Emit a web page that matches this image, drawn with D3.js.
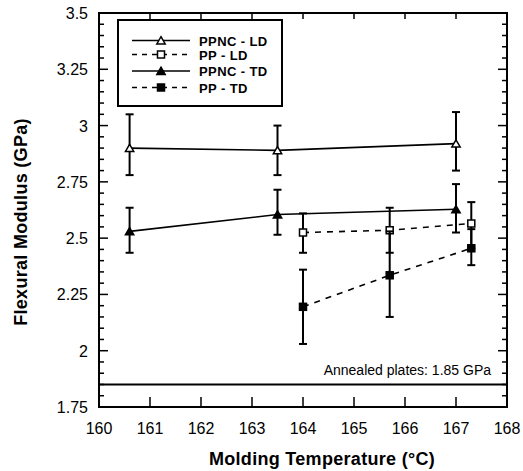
<!DOCTYPE html>
<html><head><meta charset="utf-8">
<script src="https://cdn.jsdelivr.net/npm/d3@7"></script>
<style>body{margin:0;background:#fff}svg{display:block}text{font-family:Arial,"Liberation Sans",sans-serif}</style>
</head><body><svg id="c" width="523" height="471"></svg>
<script>
const xTicks = [160,161,162,163,164,165,166,167,168];
const yTicks = [1.75,2,2.25,2.5,2.75,3,3.25,3.5];
const yTickLabels = ["1.75","2","2.25","2.5","2.75","3","3.25","3.5"];
const seriesNames = ["PPNC - LD","PP - LD","PPNC - TD","PP - TD"];
const ppncLdX = [160.6,163.5,167.0];
const ppncLdY = [2.90,2.89,2.92];
const ppncLdLo = [2.78,2.78,2.80];
const ppncLdHi = [3.05,3.00,3.06];
const ppLdX = [164.0,165.7,167.3];
const ppLdY = [2.525,2.535,2.565];
const ppLdLo = [2.435,2.435,2.455];
const ppLdHi = [2.61,2.635,2.66];
const ppncTdX = [160.6,163.5,167.0];
const ppncTdY = [2.53,2.605,2.628];
const ppncTdLo = [2.435,2.515,2.525];
const ppncTdHi = [2.635,2.715,2.74];
const ppTdX = [164.0,165.7,167.3];
const ppTdY = [2.195,2.335,2.455];
const ppTdLo = [2.03,2.15,2.38];
const ppTdHi = [2.36,2.53,2.54];
const annealed = 1.85;
const annealedLabel = "Annealed plates: 1.85 GPa";

const svg = d3.select("#c");
const L=99,R=507,T=13,B=407;
const x = d3.scaleLinear().domain([160,168]).range([L,R]);
const y = d3.scaleLinear().domain([1.75,3.5]).range([B,T]);

const yMinor = d3.range(1.75,3.5001,0.05);
const g = svg.append("g");
yMinor.forEach(v=>{
  const major = Math.abs((v-1.75)/0.25 - Math.round((v-1.75)/0.25))<1e-6;
  const len = major?9:5;
  g.append("line").attr("x1",L).attr("x2",L+len).attr("y1",y(v)).attr("y2",y(v)).attr("stroke","#000").attr("stroke-width",1.5);
  g.append("line").attr("x1",R).attr("x2",R-len).attr("y1",y(v)).attr("y2",y(v)).attr("stroke","#000").attr("stroke-width",1.5);
});
xTicks.forEach(v=>{
  g.append("line").attr("x1",x(v)).attr("x2",x(v)).attr("y1",B).attr("y2",B-10).attr("stroke","#000").attr("stroke-width",1.5);
  g.append("line").attr("x1",x(v)).attr("x2",x(v)).attr("y1",T).attr("y2",T+6).attr("stroke","#000").attr("stroke-width",1.5);
});
svg.append("rect").attr("x",L).attr("y",T).attr("width",R-L).attr("height",B-T).attr("fill","none").attr("stroke","#000").attr("stroke-width",2);

xTicks.forEach(v=>{
  svg.append("text").attr("x",x(v)).attr("y",434).attr("text-anchor","middle").attr("font-size",16).text(v);
});
yTicks.forEach((v,i)=>{
  svg.append("text").attr("x",88).attr("y",y(v)+6).attr("text-anchor","end").attr("font-size",16).text(yTickLabels[i]);
});
svg.append("text").attr("x",322).attr("y",465).attr("text-anchor","middle").attr("font-size",18).attr("font-weight","bold").attr("letter-spacing",0.3).text("Molding Temperature (°C)");
svg.append("text").attr("transform","translate(27,222) rotate(-90)").attr("text-anchor","middle").attr("font-size",18).attr("font-weight","bold").attr("letter-spacing",0.3).text("Flexural Modulus (GPa)");

svg.append("line").attr("x1",L).attr("x2",R).attr("y1",y(annealed)).attr("y2",y(annealed)).attr("stroke","#000").attr("stroke-width",2);
svg.append("text").attr("x",491).attr("y",y(annealed)-9).attr("text-anchor","end").attr("font-size",14).text(annealedLabel);

const series = [
  {X:ppncLdX,Y:ppncLdY,lo:ppncLdLo,hi:ppncLdHi,dash:null,mark:"tri",fill:"#fff"},
  {X:ppLdX,Y:ppLdY,lo:ppLdLo,hi:ppLdHi,dash:"6,6",mark:"sq",fill:"#fff"},
  {X:ppncTdX,Y:ppncTdY,lo:ppncTdLo,hi:ppncTdHi,dash:null,mark:"tri",fill:"#000"},
  {X:ppTdX,Y:ppTdY,lo:ppTdLo,hi:ppTdHi,dash:"6,6",mark:"sq",fill:"#000"}
];
const line = d3.line().x(d=>x(d[0])).y(d=>y(d[1]));
function marker(sel,type,fill,cx,cy){
  if(type==="tri"){
    sel.append("path").attr("d",d3.symbol().type(d3.symbolTriangle).size(30)()).attr("transform",`translate(${cx},${cy+1})`).attr("fill",fill).attr("stroke","#000").attr("stroke-width",1.5);
  } else {
    sel.append("rect").attr("x",cx-3.5).attr("y",cy-3.5).attr("width",7).attr("height",7).attr("fill",fill).attr("stroke","#000").attr("stroke-width",1.5);
  }
}
series.forEach(s=>{
  const pts = s.X.map((v,i)=>[v,s.Y[i]]);
  svg.append("path").attr("d",line(pts)).attr("fill","none").attr("stroke","#000").attr("stroke-width",1.6).attr("stroke-dasharray",s.dash);
  s.X.forEach((v,i)=>{
    const cx=x(v);
    svg.append("line").attr("x1",cx).attr("x2",cx).attr("y1",y(s.lo[i])).attr("y2",y(s.hi[i])).attr("stroke","#000").attr("stroke-width",2);
    [s.lo[i],s.hi[i]].forEach(e=>svg.append("line").attr("x1",cx-4).attr("x2",cx+4).attr("y1",y(e)).attr("y2",y(e)).attr("stroke","#000").attr("stroke-width",2));
  });
  s.X.forEach((v,i)=>marker(svg,s.mark,s.fill,x(v),y(s.Y[i])));
});

svg.append("rect").attr("x",118).attr("y",20).attr("width",164).attr("height",86).attr("fill","#fff").attr("stroke","#000").attr("stroke-width",2);
const rowsY=[40.5,54.5,71,87.5];
series.forEach((s,i)=>{
  svg.append("line").attr("x1",132).attr("x2",190).attr("y1",rowsY[i]).attr("y2",rowsY[i]).attr("stroke","#000").attr("stroke-width",1.6).attr("stroke-dasharray",s.dash?"5,5":null);
  marker(svg,s.mark,s.fill,161,rowsY[i]);
  svg.append("text").attr("x",199).attr("y",rowsY[i]+5).attr("font-size",13).attr("font-weight","bold").attr("letter-spacing",0.4).text(seriesNames[i]);
});
</script></body></html>
